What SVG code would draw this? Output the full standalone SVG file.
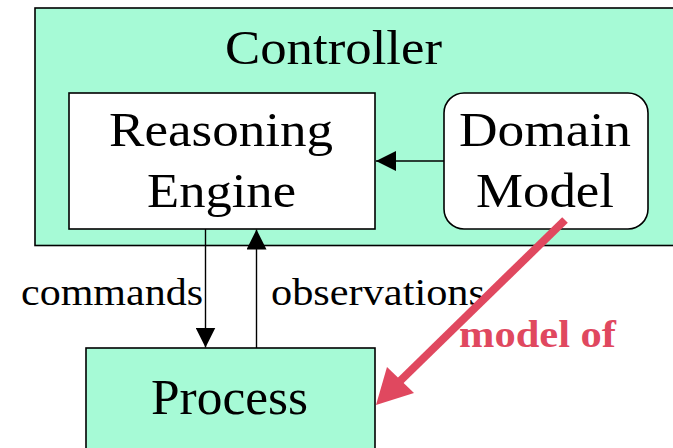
<svg xmlns="http://www.w3.org/2000/svg" width="673" height="448" viewBox="0 0 673 448">
<defs>
<style>
.box{stroke:#000;stroke-width:1.6}
.mint{fill:#a6fad6}
.white{fill:#fff}
.t{font-family:"Liberation Serif","Times New Roman",serif;fill:#000}
.big{font-size:48px}
.lbl{font-size:38px}
.edge{stroke:#000;stroke-width:1.4;fill:none}
</style>
<marker id="ah" viewBox="0 0 20 20" refX="20" refY="10" markerWidth="20" markerHeight="20" markerUnits="userSpaceOnUse" orient="auto">
<path d="M0,0 L20,10 L0,20 Z" fill="#000"/>
</marker>
</defs>
<rect width="673" height="448" fill="#fff"/>
<g id="controller">
<rect class="box mint" x="35" y="8" width="660" height="237.5"/>
<text class="t big" x="225" y="64" textLength="217" lengthAdjust="spacingAndGlyphs">Controller</text>
</g>
<g id="reasoning-engine">
<rect class="box white" x="69" y="93" width="306" height="136"/>
<text class="t big" x="109" y="146" textLength="224" lengthAdjust="spacingAndGlyphs">Reasoning</text>
<text class="t big" x="147" y="207" textLength="149" lengthAdjust="spacingAndGlyphs">Engine</text>
</g>
<g id="domain-model">
<rect class="box white" x="444" y="93" width="204" height="136" rx="20" ry="20"/>
<text class="t big" x="459" y="146" textLength="172" lengthAdjust="spacingAndGlyphs">Domain</text>
<text class="t big" x="476" y="207" textLength="138" lengthAdjust="spacingAndGlyphs">Model</text>
</g>
<g id="process">
<rect class="box mint" x="86" y="348" width="289" height="120"/>
<text class="t" font-size="50" x="151" y="414" textLength="157" lengthAdjust="spacingAndGlyphs">Process</text>
</g>
<g id="connectors">
<line class="edge" x1="444" y1="161" x2="376" y2="161" marker-end="url(#ah)"/>
<line class="edge" x1="205.5" y1="229" x2="205.5" y2="347.5" marker-end="url(#ah)"/>
<line class="edge" x1="256.5" y1="348" x2="256.5" y2="229.5" marker-end="url(#ah)"/>
<text class="t lbl" x="21" y="305" textLength="182" lengthAdjust="spacingAndGlyphs">commands</text>
<text class="t lbl" x="271" y="305" textLength="214" lengthAdjust="spacingAndGlyphs">observations</text>
<line x1="565" y1="220" x2="398" y2="383" stroke="#e0485f" stroke-width="8"/>
<polygon points="376,405 387,367 414,393" fill="#e0485f"/>
<text class="t lbl" x="459" y="347" font-weight="bold" fill="#e0485f" style="fill:#e0485f" textLength="157" lengthAdjust="spacingAndGlyphs">model of</text>
</g>
</svg>
